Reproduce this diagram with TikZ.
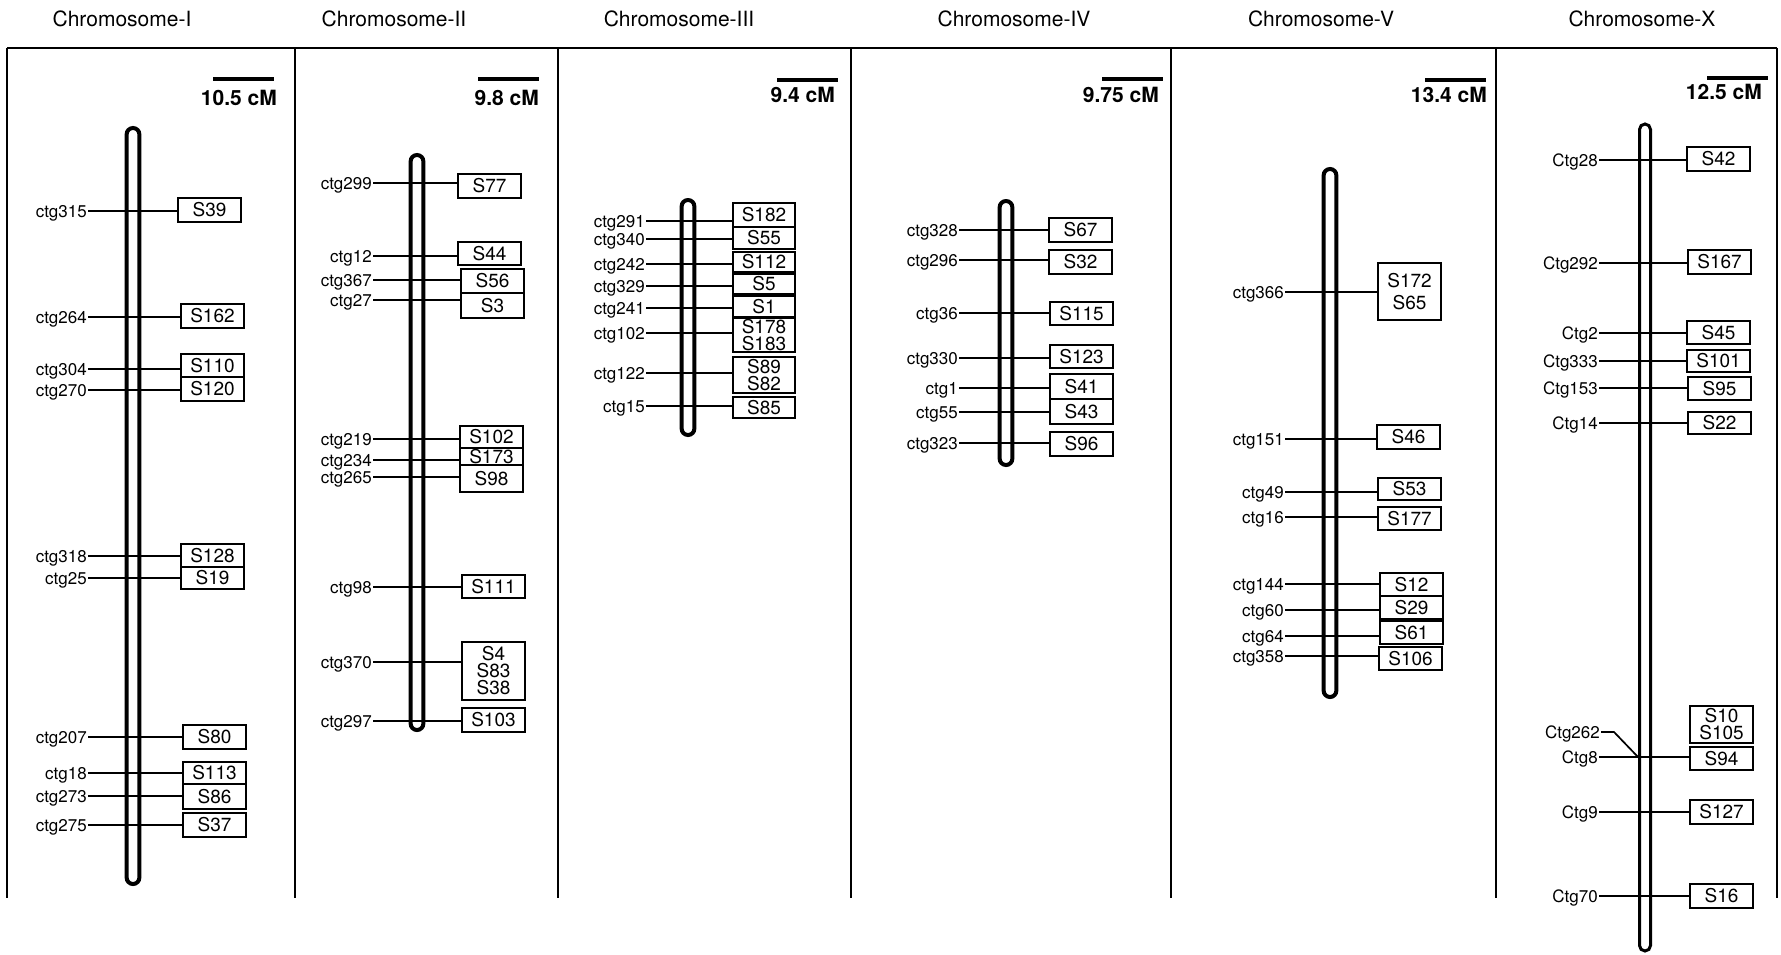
\documentclass[tikz,border=0pt]{standalone}
\usepackage{fontspec}
\setmainfont{TeX Gyre Heros}
\begin{document}
\begin{tikzpicture}[x=1pt,y=-1pt,
  frame/.style={line width=1.8pt},
  title/.style={font=\fontsize{21}{25}\selectfont, anchor=base, inner sep=0pt},
  cmlab/.style={font=\fontsize{21}{25}\selectfont\bfseries, anchor=base east, inner sep=0pt},
  bar/.style={line width=4pt},
  rod/.style={draw, line width=4pt, rounded corners=6.3pt, minimum width=12.7pt, inner sep=0pt},
  ctg/.style={font=\fontsize{17}{20}\selectfont, anchor=east, inner sep=1pt, text height=12.2pt, text depth=0pt},
  sbox/.style={draw, line width=2pt, minimum width=63pt, inner sep=0pt, align=center, anchor=north west, font=\fontsize{19}{17}\selectfont},
  link/.style={line width=1.7pt}]
\useasboundingbox (0,0) rectangle (1781,955);

\draw[frame] (7,48) -- (1777,48);
\foreach \xd in {7,295,558,851,1171,1496,1777}
  \draw[frame] (\xd,48) -- (\xd,898);

\foreach \nm/\xc in {I/122,II/394,III/679,IV/1014,V/1321,X/1642}
  \node[title] (t\nm) at (\xc,27) {Chromosome-\nm};

\foreach \nm/\xa/\ya/\xr/\yl/\cm in {I/213/79/277/106/10.5,II/478/79/539/106/9.8,III/777/80/835/103/9.4,IV/1102/79/1159/103/9.75,V/1425/80/1487/103/13.4,X/1707/78/1762/100/12.5}{
  \draw[bar] (\xa,\ya) -- ++(61,0);
  \node[cmlab] (cm\nm) at (\xr,\yl) {\cm\ cM};
}

\foreach \nm/\xc/\yt/\yb in {I/133/128/884,II/417/155/730,III/688/200/435,IV/1006/201/465,V/1330/169/697}
  \node[rod, minimum height={\yb-\yt}] (chr\nm) at (\xc,{(\yt+\yb)/2}) {};
\node[rod, line width=3pt, minimum width=11pt, rounded corners=5.5pt, minimum height=827] (chrX) at (1645,537.5) {};

% Chromosome-I
\foreach \ya/\cn/\xb/\yt/\yb/\sn in {211/ctg315/177/197/221/S39,317/ctg264/180/303/327/S162,369/ctg304/180/353/376/S110,390/ctg270/180/376/400/S120,556/ctg318/180/543/566/S128,578/ctg25/180/566/588/S19,737/ctg207/182/724/748/S80,773/ctg18/182/761/783/S113,796/ctg273/182/783/808/S86,825/ctg275/182/812/836/S37}{
  \node[ctg] (\cn) at (88,\ya) {\cn};
  \node[sbox, minimum height={\yb-\yt}] (b\cn) at (\xb,\yt) {\sn};
  \draw[link] (\cn.east) -- (\cn.east -| b\cn.west);
}

% Chromosome-II
\foreach \ya/\cn/\xb/\yt/\yb/\sn in {183/ctg299/457/173/197/S77,256/ctg12/457/241/264/S44,280/ctg367/460/268/292/S56,300/ctg27/460/292/317/S3,439/ctg219/459/425/447/S102,460/ctg234/459/447/464/S173,477/ctg265/459/464/491/S98,587/ctg98/461/574/597/S111,662/ctg370/461/641/699/S4\\S83\\S38,721/ctg297/461/707/731/S103}{
  \node[ctg] (\cn) at (373,\ya) {\cn};
  \node[sbox, minimum height={\yb-\yt}] (b\cn) at (\xb,\yt) {\sn};
  \draw[link] (\cn.east) -- (\cn.east -| b\cn.west);
}

% Chromosome-III
\foreach \ya/\cn/\xb/\yt/\yb/\sn in {221/ctg291/732/202/226/S182,239/ctg340/732/226/248/S55,264/ctg242/732/251/271/S112,286/ctg329/732/273/293/S5,308/ctg241/732/295/316/S1,333/ctg102/732/317/351/S178\\[-0.5pt]S183,373/ctg122/732/356/392/S89\\S82,406/ctg15/732/396/417/S85}{
  \node[ctg] (\cn) at (646,\ya) {\cn};
  \node[sbox, minimum width=62, minimum height={\yb-\yt}] (b\cn) at (\xb,\yt) {\sn};
  \draw[link] (\cn.east) -- (\cn.east -| b\cn.west);
}

% Chromosome-IV
\foreach \ya/\cn/\xb/\yt/\yb/\sn in {230/ctg328/1048/217/241/S67,260/ctg296/1048/249/273/S32,313/ctg36/1049/301/324/S115,358/ctg330/1049/344/367/S123,388/ctg1/1049/373/398/S41,412/ctg55/1049/398/423/S43,443/ctg323/1049/431/455/S96}{
  \node[ctg] (\cn) at (959,\ya) {\cn};
  \node[sbox, minimum height={\yb-\yt}] (b\cn) at (\xb,\yt) {\sn};
  \draw[link] (\cn.east) -- (\cn.east -| b\cn.west);
}

% Chromosome-V
\foreach \ya/\cn/\xb/\yt/\yb/\sn in {292/ctg366/1377/262/319/S172\\[4.5pt]S65,439/ctg151/1376/424/448/S46,492/ctg49/1377/477/499/S53,517/ctg16/1377/506/529/S177,584/ctg144/1379/572/595/S12,610/ctg60/1379/595/618/S29,636/ctg64/1379/620/643/S61,656/ctg358/1378/646/669/S106}{
  \node[ctg] (\cn) at (1285,\ya) {\cn};
  \node[sbox, minimum height={\yb-\yt}] (b\cn) at (\xb,\yt) {\sn};
  \draw[link] (\cn.east) -- (\cn.east -| b\cn.west);
}

% Chromosome-X
\foreach \ya/\cn/\xb/\yt/\yb/\sn in {160/Ctg28/1686/146/170/S42,263/Ctg292/1687/249/273/S167,333/Ctg2/1686/320/343/S45,361/Ctg333/1686/349/371/S101,388/Ctg153/1687/376/399/S95,423/Ctg14/1687/411/433/S22,757/Ctg8/1689/746/769/S94,812/Ctg9/1689/799/823/S127,896/Ctg70/1689/883/907/S16}{
  \node[ctg] (\cn) at (1599,\ya) {\cn};
  \node[sbox, minimum height={\yb-\yt}] (b\cn) at (\xb,\yt) {\sn};
  \draw[link] (\cn.east) -- (\cn.east -| b\cn.west);
}
\node[sbox, minimum height=37] (bS10) at (1689,705) {S10\\S105};
\node[ctg] (Ctg262) at (1601,732) {Ctg262};
\draw[link] (Ctg262.east) -- ++(13,0) -- (chrX.west |- Ctg8.east);
\end{tikzpicture}
\end{document}
